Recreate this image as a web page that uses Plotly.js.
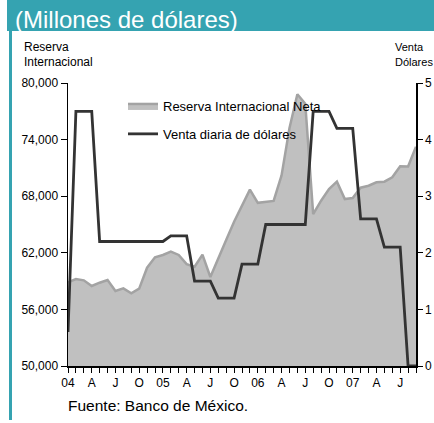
<!DOCTYPE html>
<html><head><meta charset="utf-8">
<script src="https://cdn.plot.ly/plotly-3.0.1.min.js"></script>
<style>html,body{margin:0;padding:0;background:#fff}#chart{width:434px;height:423px}</style>
</head><body><div id="chart"></div>
<script>
const months = ['ene-04','feb-04','mar-04','abr-04','may-04','jun-04','jul-04','ago-04','sep-04','oct-04','nov-04','dic-04',
  'ene-05','feb-05','mar-05','abr-05','may-05','jun-05','jul-05','ago-05','sep-05','oct-05','nov-05','dic-05',
  'ene-06','feb-06','mar-06','abr-06','may-06','jun-06','jul-06','ago-06','sep-06','oct-06','nov-06','dic-06',
  'ene-07','feb-07','mar-07','abr-07','may-07','jun-07','jul-07','ago-07','sep-07'];
const tickLabels = ['04','','','A','','','J','','','O','','',
  '05','','','A','','','J','','','O','','',
  '06','','','A','','','J','','','O','','',
  '07','','','A','','','J','',''];
const reserva = [58870,59220,59080,58480,58830,59120,57950,58230,57700,58200,60420,61520,
  61770,62120,61770,60800,60530,61800,59430,61300,63350,65300,67000,68700,
  67300,67400,67500,70200,75200,78800,77800,66100,67520,68760,69540,67700,
  67800,68900,69110,69470,69540,70000,71180,71150,73250];
const venta = [0.6,4.5,4.5,4.5,2.2,2.2,2.2,2.2,2.2,2.2,2.2,2.2,
  2.2,2.3,2.3,2.3,1.5,1.5,1.5,1.2,1.2,1.2,1.8,1.8,
  1.8,2.5,2.5,2.5,2.5,2.5,2.5,4.5,4.5,4.5,4.2,4.2,
  4.2,2.6,2.6,2.6,2.1,2.1,2.1,0,0];
const leftTicks = [50000,56000,62000,68000,74000,80000];
const rightTicks = [0,1,2,3,4,5];
const seriesNames = ['Reserva Internacional Neta','Venta diaria de dólares'];

const L=68, T=83, W=348, H=283;
const px = x => (x-L)/W;
const py = y => (T+H-y)/H;
const teal = '#35a3b1';
const font = 'Liberation Sans, Arial, sans-serif';

const traces = [
  {x: months, y: reserva, type:'scatter', mode:'lines', fill:'tozeroy', fillcolor:'#c0c0c0',
   line:{color:'#a3a3a3', width:2.5}, name: seriesNames[0], legendgroup:'a'},
  {x: months, y: venta, type:'scatter', mode:'lines', yaxis:'y2',
   line:{color:'#333333', width:2.8}, name: seriesNames[1], legendgroup:'b'}
];

const ann = (text, x, y, xanchor, size) => ({text, x:px(x), y:py(y), xref:'paper', yref:'paper',
  xanchor, yanchor:'middle', showarrow:false, font:{family:font, size, color:'#000'}});

const layout = {
  width:434, height:423,
  margin:{l:L, r:434-L-W, t:T, b:423-T-H},
  paper_bgcolor:'#fff', plot_bgcolor:'rgba(0,0,0,0)',
  font:{family:font, color:'#000', size:12},
  title:{text:'(Millones de dólares)', xref:'container', yref:'container', x:15/434, xanchor:'left',
    y:1-20/423, yanchor:'middle', font:{family:font, size:24, color:'#fff'}},
  xaxis:{type:'category', categoryarray: months, range:[0,44], tickmode:'array', tickvals: months, ticktext: tickLabels,
    ticks:'outside', ticklen:5, tickwidth:1, tickcolor:'#000', showline:true, linecolor:'#000', linewidth:1.5,
    showgrid:false, zeroline:false, tickangle:0, tickfont:{size:12, color:'#000'}},
  yaxis:{range:[50000,80000], tickmode:'array', tickvals:leftTicks, tickformat:',.0f', ticks:'outside', ticklen:6,
    tickcolor:'#000', showline:true, linecolor:'#000', linewidth:1.5, showgrid:false, zeroline:false,
    tickfont:{size:12, color:'#000'}},
  yaxis2:{overlaying:'y', side:'right', range:[0,5], tickmode:'array', tickvals:rightTicks, ticks:'outside', ticklen:5,
    tickcolor:'#000', showline:true, linecolor:'#000', linewidth:1.5, showgrid:false, zeroline:false,
    tickfont:{size:12, color:'#000'}},
  showlegend:true,
  legend:{x:px(123), xanchor:'left', y:py(91), yanchor:'top', bgcolor:'rgba(0,0,0,0)', borderwidth:0,
    font:{size:13, color:'#000'}, traceorder:'grouped', tracegroupgap:8},
  shapes:[
    {type:'rect', xref:'paper', yref:'paper', x0:px(7), x1:px(434), y0:py(31), y1:py(0), fillcolor:teal, line:{width:0}, layer:'below'},
    {type:'rect', xref:'paper', yref:'paper', x0:px(9), x1:px(12), y0:py(420), y1:py(31), fillcolor:teal, line:{width:0}, layer:'below'}
  ],
  annotations:[
    ann('Reserva', 22, 47, 'left', 12),
    ann('Internacional', 22, 62, 'left', 12),
    ann('Venta', 393, 47, 'left', 11),
    ann('Dólares', 393, 62, 'left', 11),
    ann('Fuente: Banco de México.', 66, 405, 'left', 15.5)
  ]
};
Plotly.newPlot('chart', traces, layout, {staticPlot:true, displayModeBar:false});
</script>
</body></html>
